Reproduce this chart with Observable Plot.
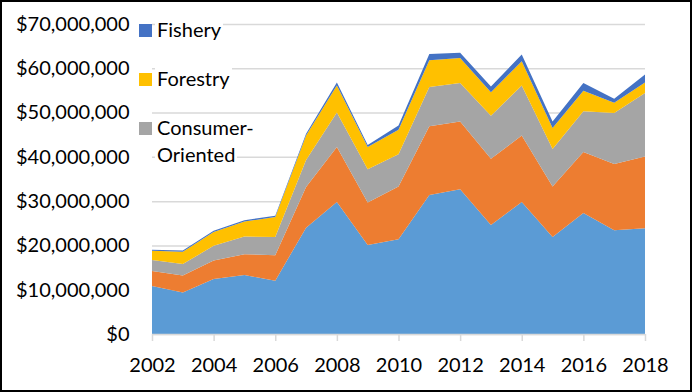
<!DOCTYPE html>
<html>
<head>
<meta charset="utf-8">
<script src="https://cdn.jsdelivr.net/npm/d3@7"></script>
<script src="https://cdn.jsdelivr.net/npm/@observablehq/plot@0.6"></script>
<style>
  html, body { margin: 0; padding: 0; background: #fff; }
  #wrap { position: relative; width: 692px; height: 392px; overflow: hidden; font-family: Lato, "Open Sans", sans-serif; }
  #chart { position: absolute; left: 0; top: 0; }
  #frame { position: absolute; left: 0; top: 0; width: 692px; height: 392px; box-sizing: border-box; border: 2px solid #000; pointer-events: none; }
  .leg { position: absolute; font-size: 20px; color: #000; }
  .sw { position: absolute; width: 13px; height: 13px; }
  .lt { position: absolute; background: #fff; line-height: 27px; padding-left: 2px; padding-right: 2px; white-space: nowrap; }
</style>
</head>
<body>
<div id="wrap">
  <div id="chart"></div>
  <div id="legend"></div>
  <div id="frame"></div>
</div>
<script>
const years = [2002, 2003, 2004, 2005, 2006, 2007, 2008, 2009, 2010, 2011, 2012, 2013, 2014, 2015, 2016, 2017, 2018];
const bulk         = [10850000, 9350000, 12400000, 13300000, 12050000, 24000000, 29800000, 20100000, 21400000, 31400000, 32700000, 24600000, 29800000, 21900000, 27300000, 23400000, 23900000];
const intermediate = [3350000, 3850000, 4200000, 4700000, 5750000, 9200000, 12400000, 9600000, 11900000, 15500000, 15300000, 15000000, 15000000, 11400000, 13800000, 15000000, 16200000];
const consumer     = [2500000, 2600000, 3300000, 4000000, 4100000, 6100000, 7800000, 7500000, 7300000, 8900000, 8700000, 9700000, 11300000, 8500000, 9200000, 11500000, 14300000];
const forestry     = [2100000, 2800000, 3150000, 3400000, 4500000, 5500000, 6100000, 5000000, 5500000, 6000000, 5600000, 5300000, 5500000, 4700000, 4600000, 2300000, 2400000];
const fishery      = [200000, 250000, 250000, 300000, 300000, 400000, 700000, 500000, 1000000, 1400000, 1200000, 1300000, 1500000, 1500000, 1800000, 900000, 1800000];

const seriesNames = ["Bulk", "Intermediate", "Consumer-Oriented", "Forestry", "Fishery"];
const seriesColors = ["#5B9BD5", "#ED7D31", "#A5A5A5", "#FFC000", "#4472C4"];
const seriesValues = [bulk, intermediate, consumer, forestry, fishery];

const yTicks = [0, 10000000, 20000000, 30000000, 40000000, 50000000, 60000000, 70000000];
const xTicks = [2002, 2004, 2006, 2008, 2010, 2012, 2014, 2016, 2018];

const legendNames = ["Fishery", "Forestry", "Consumer-Oriented"];
const legendLabels = [["Fishery"], ["Forestry"], ["Consumer-", "Oriented"]];

const data = seriesNames.flatMap((s, i) =>
  years.map((y, j) => ({ year: y, series: s, value: seriesValues[i][j] }))
);

const chart = Plot.plot({
  width: 692,
  height: 392,
  marginLeft: 152,
  marginRight: 47,
  marginTop: 24,
  marginBottom: 58,
  x: { domain: [2002, 2018] },
  y: { domain: [0, 70000000] },
  color: { domain: seriesNames, range: seriesColors },
  style: { fontFamily: "Lato, 'Open Sans', sans-serif", fontSize: "20px", color: "#000", background: "transparent", overflow: "visible" },
  marks: [
    Plot.gridY({ ticks: yTicks, stroke: "#d9d9d9", strokeWidth: 1.5, strokeOpacity: 1 }),
    Plot.areaY(data, { x: "year", y: "value", z: "series", fill: "series", order: seriesNames }),
    Plot.ruleY([0], { stroke: "#d9d9d9", strokeWidth: 1.5 }),
    Plot.axisX({ ticks: xTicks, tickFormat: d3.format("d"), tickSize: 7, tickPadding: 16, stroke: "#d9d9d9", strokeWidth: 1.5, fill: "#000", label: null }),
    Plot.axisY({ ticks: yTicks, tickFormat: d3.format("$,.0f"), tickSize: 0, tickPadding: 23, fill: "#000", label: null })
  ]
});
document.getElementById("chart").appendChild(chart);

// legend (only the visible entries, as in the reference)
const legendTops = [16, 65, 114];
const legend = document.getElementById("legend");
legendNames.forEach((name, i) => {
  const idx = seriesNames.indexOf(name);
  const sw = document.createElement("div");
  sw.className = "sw";
  sw.style.left = "139px";
  sw.style.top = (legendTops[i] + 8) + "px";
  sw.style.background = seriesColors[idx];
  legend.appendChild(sw);
  legendLabels[i].forEach((line, k) => {
    const t = document.createElement("div");
    t.className = "leg lt";
    t.style.left = "155px";
    t.style.top = (legendTops[i] + k * 27) + "px";
    t.textContent = line;
    legend.appendChild(t);
  });
});
</script>
</body>
</html>
